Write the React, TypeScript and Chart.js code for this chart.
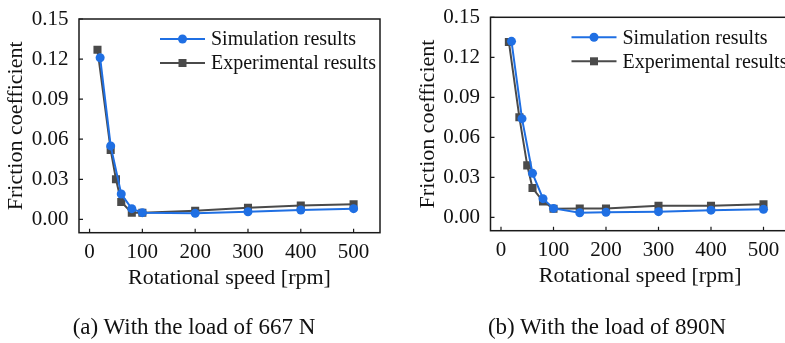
import React, { useEffect, useRef } from "react";
import { Chart, registerables } from "chart.js";

Chart.register(...registerables);

const FONT = "'Liberation Serif', 'Times New Roman', serif";

const seriesNames = ["Simulation results", "Experimental results"];
const xTicks = [0, 100, 200, 300, 400, 500];
const yTicks = [0, 0.03, 0.06, 0.09, 0.12, 0.15];
const xTitle = "Rotational speed [rpm]";
const yTitle = "Friction coefficient";
const captions = ["(a) With the load of 667 N", "(b) With the load of 890N"];

// (a) 667 N
const simXA = [20, 40, 60, 80, 100, 200, 300, 400, 500];
const simYA = [0.121, 0.055, 0.019, 0.008, 0.005, 0.0045, 0.0057, 0.007, 0.008];
const expXA = [15, 40, 50, 60, 80, 100, 200, 300, 400, 500];
const expYA = [0.127, 0.052, 0.03, 0.013, 0.005, 0.005, 0.0065, 0.0086, 0.0104, 0.0113];

// (b) 890 N
const simXB = [20, 40, 60, 80, 100, 150, 200, 300, 400, 500];
const simYB = [0.132, 0.074, 0.033, 0.014, 0.0067, 0.0035, 0.0038, 0.0043, 0.0054, 0.006];
const expXB = [15, 35, 50, 60, 80, 100, 150, 200, 300, 400, 500];
const expYB = [0.1315, 0.075, 0.039, 0.022, 0.012, 0.0065, 0.0066, 0.0066, 0.0087, 0.0087, 0.0098];

const BLUE = "#1f6fe3";
const GRAY = "#4a4a4a";

type Layout = {
  width: number;
  padLeft: number;
  padTop: number;
  padRight: number;
  padBottom: number;
};

const framePlugin = {
  id: "frameTicksLegend",
  afterDraw(chart: any) {
    const { ctx, chartArea: a } = chart;
    const xs = chart.scales.x;
    const ys = chart.scales.y;
    ctx.save();
    ctx.strokeStyle = "#1a1a1a";
    ctx.lineWidth = 1.5;
    ctx.strokeRect(a.left, a.top, a.right - a.left, a.bottom - a.top);
    ctx.lineWidth = 1.2;
    ctx.beginPath();
    xTicks.forEach((v) => {
      const px = xs.getPixelForValue(v);
      ctx.moveTo(px, a.bottom);
      ctx.lineTo(px, a.bottom - 4);
    });
    yTicks.forEach((v) => {
      const py = ys.getPixelForValue(v);
      ctx.moveTo(a.left, py);
      ctx.lineTo(a.left + 4, py);
    });
    ctx.stroke();

    // legend: line + marker samples
    chart.data.datasets.forEach((ds: any, i: number) => {
      const y = a.top + 20 + i * 24;
      const x0 = a.left + 81;
      const x1 = x0 + 45;
      ctx.strokeStyle = ds.borderColor;
      ctx.lineWidth = 2;
      ctx.beginPath();
      ctx.moveTo(x0, y);
      ctx.lineTo(x1, y);
      ctx.stroke();
      ctx.fillStyle = ds.pointBackgroundColor;
      const cx = (x0 + x1) / 2;
      if (ds.pointStyle === "rect") {
        ctx.fillRect(cx - 4, y - 4, 8, 8);
      } else {
        ctx.beginPath();
        ctx.arc(cx, y, 4.5, 0, Math.PI * 2);
        ctx.fill();
      }
      ctx.fillStyle = "#111";
      ctx.font = `20px ${FONT}`;
      ctx.textBaseline = "middle";
      ctx.textAlign = "left";
      ctx.fillText(ds.label, x1 + 6, y + 1);
    });
    ctx.restore();
  },
};

function buildConfig(simX: number[], simY: number[], expX: number[], expY: number[], L: Layout) {
  return {
    type: "line" as const,
    data: {
      datasets: [
        {
          label: seriesNames[0],
          data: simX.map((x, i) => ({ x, y: simY[i] })),
          borderColor: BLUE,
          backgroundColor: BLUE,
          pointBackgroundColor: BLUE,
          pointBorderColor: BLUE,
          pointStyle: "circle",
          pointRadius: 4.5,
          borderWidth: 2,
          pointBorderWidth: 0,
          tension: 0,
        },
        {
          label: seriesNames[1],
          data: expX.map((x, i) => ({ x, y: expY[i] })),
          borderColor: GRAY,
          backgroundColor: GRAY,
          pointBackgroundColor: GRAY,
          pointBorderColor: GRAY,
          pointStyle: "rect",
          pointRadius: 5.7,
          borderWidth: 2,
          pointBorderWidth: 0,
          tension: 0,
        },
      ],
    },
    options: {
      animation: false,
      responsive: false,
      maintainAspectRatio: false,
      devicePixelRatio: 1,
      layout: {
        padding: { left: L.padLeft, top: L.padTop, right: L.padRight, bottom: L.padBottom },
      },
      plugins: {
        legend: { display: false },
        tooltip: { enabled: false },
      },
      scales: {
        x: {
          type: "linear",
          min: -20,
          max: 550,
          grid: { display: false, drawTicks: false },
          border: { display: false },
          afterBuildTicks: (s: any) => {
            s.ticks = xTicks.map((v) => ({ value: v }));
          },
          afterFit: (s: any) => {
            s.height = 60;
            s.paddingLeft = 0;
            s.paddingRight = 0;
          },
          ticks: {
            color: "#111",
            font: { family: FONT, size: 21 },
            padding: 7,
            maxRotation: 0,
            autoSkip: false,
            callback: (v: any) => String(v),
          },
          title: {
            display: true,
            text: xTitle,
            color: "#111",
            font: { family: FONT, size: 22 },
            padding: { top: 0, bottom: 1 },
          },
        },
        y: {
          type: "linear",
          min: -0.01,
          max: 0.15,
          grid: { display: false, drawTicks: false },
          border: { display: false },
          afterBuildTicks: (s: any) => {
            s.ticks = yTicks.map((v) => ({ value: v }));
          },
          afterFit: (s: any) => {
            s.width = 79;
            s.paddingTop = 0;
            s.paddingBottom = 0;
          },
          ticks: {
            color: "#111",
            font: { family: FONT, size: 21 },
            padding: 10.5,
            autoSkip: false,
            callback: (v: any) => Number(v).toFixed(2),
          },
          title: {
            display: true,
            text: yTitle,
            color: "#111",
            font: { family: FONT, size: 22 },
            padding: { top: 3.3, bottom: 0 },
          },
        },
      },
    },
    plugins: [framePlugin],
  };
}

function ChartPanel(props: {
  simX: number[];
  simY: number[];
  expX: number[];
  expY: number[];
  layout: Layout;
  left: number;
}) {
  const ref = useRef<HTMLCanvasElement | null>(null);
  useEffect(() => {
    if (!ref.current) return;
    const chart = new Chart(
      ref.current,
      buildConfig(props.simX, props.simY, props.expX, props.expY, props.layout) as any
    );
    return () => chart.destroy();
  }, []);
  return (
    <canvas
      ref={ref}
      width={props.layout.width}
      height={343}
      style={{
        position: "absolute",
        left: props.left,
        top: 0,
        width: props.layout.width,
        height: 343,
      }}
    />
  );
}

export default function App() {
  const capStyle: React.CSSProperties = {
    position: "absolute",
    top: 313,
    fontFamily: FONT,
    fontSize: 23,
    lineHeight: "28px",
    color: "#111",
    whiteSpace: "nowrap",
    transform: "translateX(-50%)",
  };
  return (
    <div
      style={{
        position: "fixed",
        left: 0,
        top: 0,
        width: 785,
        height: 343,
        overflow: "hidden",
        background: "#fff",
      }}
    >
      <ChartPanel
        simX={simXA}
        simY={simYA}
        expX={expXA}
        expY={expYA}
        left={0}
        layout={{ width: 395, padLeft: 0, padTop: 19, padRight: 15, padBottom: 50.3 }}
      />
      <ChartPanel
        simX={simXB}
        simY={simYB}
        expX={expXB}
        expY={expYB}
        left={395}
        layout={{ width: 410, padLeft: 16.5, padTop: 17.3, padRight: 15.25, padBottom: 52.3 }}
      />
      <div style={{ ...capStyle, left: 194 }}>{captions[0]}</div>
      <div style={{ ...capStyle, left: 607 }}>{captions[1]}</div>
    </div>
  );
}
